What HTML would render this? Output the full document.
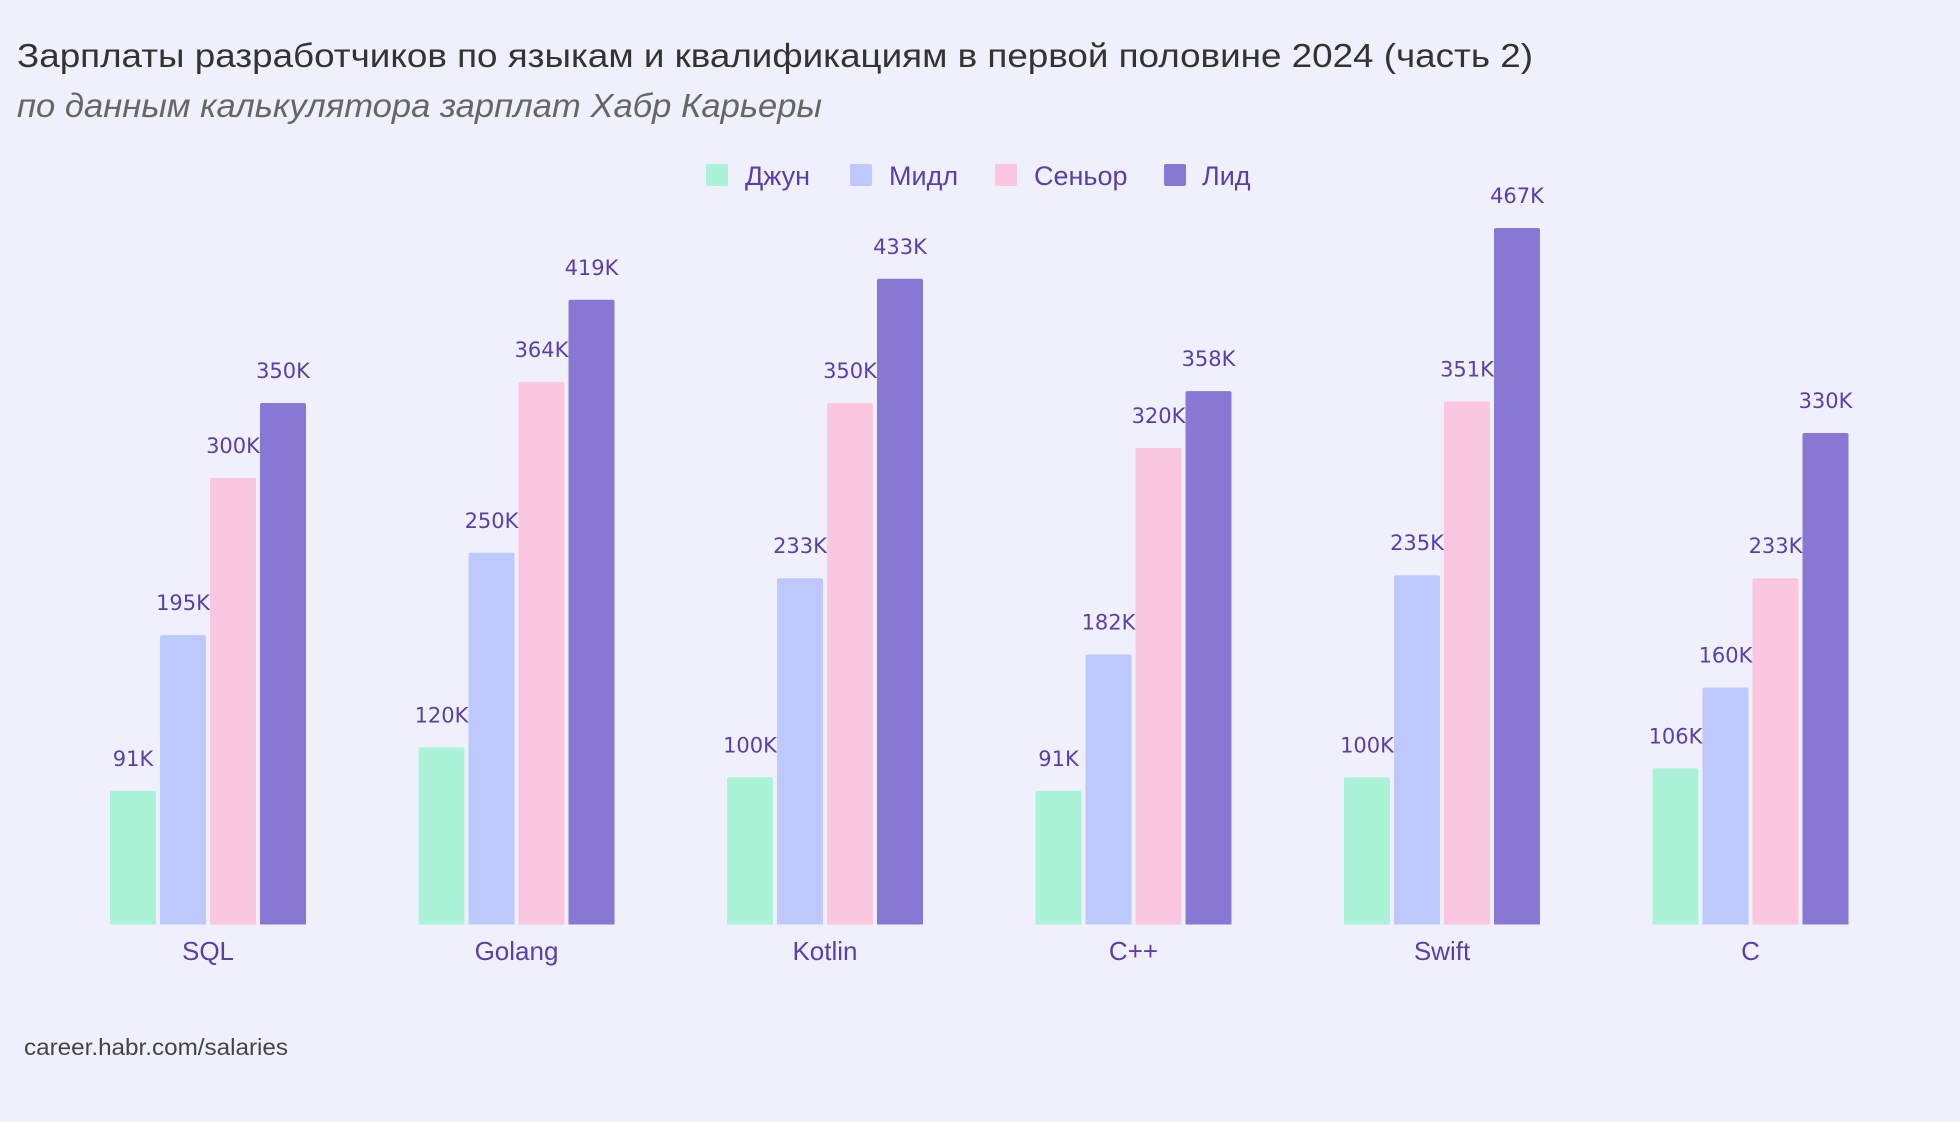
<!DOCTYPE html>
<html><head><meta charset="utf-8"><style>
html,body{margin:0;padding:0;background:#f0f0fd;}
svg{display:block;}
</style></head><body>
<svg width="1960" height="1122" viewBox="0 0 1960 1122" xmlns="http://www.w3.org/2000/svg">
<rect width="1960" height="1122" fill="#f0f0fd"/>
<text x="17" y="67" font-family="Liberation Sans, sans-serif" font-size="33" fill="#333" textLength="1516" lengthAdjust="spacingAndGlyphs">Зарплаты разработчиков по языкам и квалификациям в первой половине 2024 (часть 2)</text>
<text x="17" y="117" font-family="Liberation Sans, sans-serif" font-size="33" font-style="italic" fill="#666" textLength="805" lengthAdjust="spacingAndGlyphs">по данным калькулятора зарплат Хабр Карьеры</text>
<g font-family="Liberation Sans, sans-serif" font-size="27" fill="#5b3fa5">
<rect x="706" y="164" width="22" height="22" rx="2" fill="#abf3d7"/><text x="745" y="185">Джун</text>
<rect x="850" y="164" width="22" height="22" rx="2" fill="#bdc8fd"/><text x="889" y="185">Мидл</text>
<rect x="995" y="164" width="22" height="22" rx="2" fill="#fbc6e0"/><text x="1034" y="185">Сеньор</text>
<rect x="1164" y="164" width="22" height="22" rx="2" fill="#8878d3"/><text x="1202" y="185">Лид</text>
</g>
<text x="24" y="1055" font-family="Liberation Sans, sans-serif" font-size="23" fill="#444" textLength="264" lengthAdjust="spacingAndGlyphs">career.habr.com/salaries</text>
<g font-family="Liberation Sans, sans-serif" font-size="26" fill="#5b3fa5" text-anchor="middle">
<text x="208" y="960">SQL</text>
<text x="516.5" y="960">Golang</text>
<text x="825" y="960">Kotlin</text>
<text x="1133.5" y="960">C++</text>
<text x="1442" y="960">Swift</text>
<text x="1750.5" y="960">C</text>
</g>
<g font-family="DejaVu Sans, sans-serif" font-size="21" fill="#5b3fa5" text-anchor="middle">
<rect x="110" y="790.8" width="46" height="136.2" rx="2" fill="#abf3d7"/><text x="133" y="765.8">91K</text>
<rect x="160" y="635.1" width="46" height="291.9" rx="2" fill="#bdc8fd"/><text x="183" y="610.1">195K</text>
<rect x="210" y="477.9" width="46" height="449.1" rx="2" fill="#fbc6e0"/><text x="233" y="452.9">300K</text>
<rect x="260" y="403" width="46" height="524" rx="2" fill="#8878d3"/><text x="283" y="378">350K</text>
<rect x="418.5" y="747.4" width="46" height="179.6" rx="2" fill="#abf3d7"/><text x="441.5" y="722.4">120K</text>
<rect x="468.5" y="552.8" width="46" height="374.2" rx="2" fill="#bdc8fd"/><text x="491.5" y="527.8">250K</text>
<rect x="518.5" y="382.1" width="46" height="544.9" rx="2" fill="#fbc6e0"/><text x="541.5" y="357.1">364K</text>
<rect x="568.5" y="299.8" width="46" height="627.2" rx="2" fill="#8878d3"/><text x="591.5" y="274.8">419K</text>
<rect x="727" y="777.3" width="46" height="149.7" rx="2" fill="#abf3d7"/><text x="750" y="752.3">100K</text>
<rect x="777" y="578.2" width="46" height="348.8" rx="2" fill="#bdc8fd"/><text x="800" y="553.2">233K</text>
<rect x="827" y="403" width="46" height="524" rx="2" fill="#fbc6e0"/><text x="850" y="378">350K</text>
<rect x="877" y="278.8" width="46" height="648.2" rx="2" fill="#8878d3"/><text x="900" y="253.8">433K</text>
<rect x="1035.5" y="790.8" width="46" height="136.2" rx="2" fill="#abf3d7"/><text x="1058.5" y="765.8">91K</text>
<rect x="1085.5" y="654.5" width="46" height="272.5" rx="2" fill="#bdc8fd"/><text x="1108.5" y="629.5">182K</text>
<rect x="1135.5" y="448" width="46" height="479" rx="2" fill="#fbc6e0"/><text x="1158.5" y="423">320K</text>
<rect x="1185.5" y="391.1" width="46" height="535.9" rx="2" fill="#8878d3"/><text x="1208.5" y="366.1">358K</text>
<rect x="1344" y="777.3" width="46" height="149.7" rx="2" fill="#abf3d7"/><text x="1367" y="752.3">100K</text>
<rect x="1394" y="575.2" width="46" height="351.8" rx="2" fill="#bdc8fd"/><text x="1417" y="550.2">235K</text>
<rect x="1444" y="401.6" width="46" height="525.4" rx="2" fill="#fbc6e0"/><text x="1467" y="376.6">351K</text>
<rect x="1494" y="228" width="46" height="699" rx="2" fill="#8878d3"/><text x="1517" y="203">467K</text>
<rect x="1652.5" y="768.3" width="46" height="158.7" rx="2" fill="#abf3d7"/><text x="1675.5" y="743.3">106K</text>
<rect x="1702.5" y="687.5" width="46" height="239.5" rx="2" fill="#bdc8fd"/><text x="1725.5" y="662.5">160K</text>
<rect x="1752.5" y="578.2" width="46" height="348.8" rx="2" fill="#fbc6e0"/><text x="1775.5" y="553.2">233K</text>
<rect x="1802.5" y="433" width="46" height="494" rx="2" fill="#8878d3"/><text x="1825.5" y="408">330K</text>
</g>
<rect x="0" y="924.5" width="1960" height="4" fill="#f0f0fd"/>
</svg>
</body></html>
